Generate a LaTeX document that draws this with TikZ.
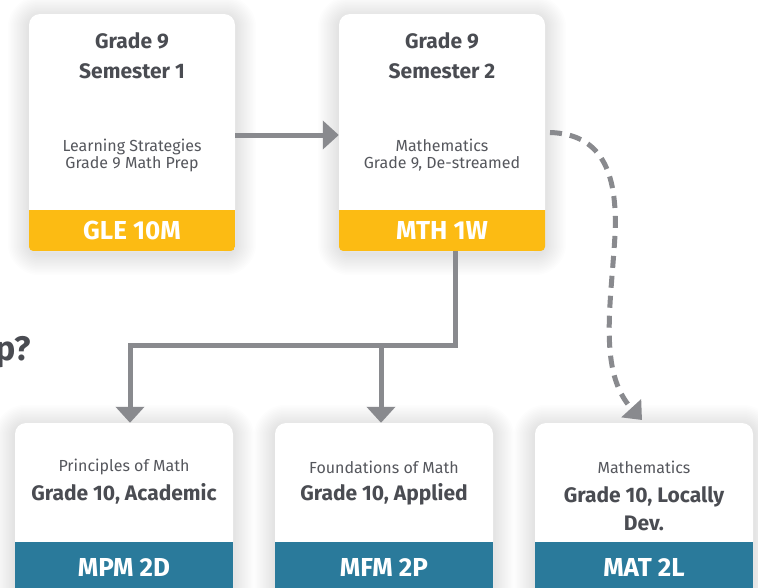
\documentclass[tikz,border=0pt]{standalone}
\usepackage{fontspec}
\setmainfont{Fira Sans}
\usetikzlibrary{arrows.meta,calc,backgrounds}
\definecolor{ylw}{HTML}{FCBB13}
\definecolor{blu}{HTML}{2A7A9B}
\definecolor{ink}{HTML}{4A4C52}
\definecolor{subink}{HTML}{55575D}
\definecolor{connc}{HTML}{898A8E}
\pgfdeclarelayer{bottomlayer}
\pgfsetlayers{bottomlayer,background,main}
\begin{document}
\begin{tikzpicture}[x=1pt,y=-1pt,
  card/.style={fill=white, rounded corners=11pt, inner sep=0pt},
  topcard/.style={card, minimum width=206pt, minimum height=237pt},
  botcard/.style={card, minimum width=218pt, minimum height=190pt},
  foot/.style={inner sep=0pt, text=white, font=\fontsize{26}{30}\selectfont\bfseries},
  head/.style={align=center, text=ink, font=\fontsize{21}{30}\selectfont\bfseries},
  sub/.style={align=center, text=subink, font=\fontsize{16}{17}\selectfont},
  main/.style={align=center, text=ink, font=\fontsize{21}{28}\selectfont\bfseries},
  conn/.style={draw=connc, line width=5pt},
  tip/.style={-{Triangle[length=16pt,width=28pt]}},
  glow/.style={fill=black, opacity=0.009}
]
\useasboundingbox (0,0) rectangle (758,587);

% partial title
\node[anchor=base east, inner sep=0pt, text=ink, font=\fontsize{34}{38}\selectfont\bfseries] (ttl) at (31,360) {p?};

% top cards
\node[topcard] (b1) at (132,132.5) {};
\begin{scope}
  \clip[rounded corners=5pt] (b1.north west) rectangle (b1.south east);
  \node[foot, fill=ylw, minimum width=206pt, minimum height=41pt, anchor=south] (f1) at (b1.south) {GLE 10M};
\end{scope}
\node[head] (h1) at (132,56) {Grade 9\\Semester 1};
\node[sub] (s1) at (132,155) {Learning Strategies\\Grade 9 Math Prep};

\node[topcard] (b2) at (442,132.5) {};
\begin{scope}
  \clip[rounded corners=5pt] (b2.north west) rectangle (b2.south east);
  \node[foot, fill=ylw, minimum width=207pt, minimum height=41pt, anchor=south] (f2) at (b2.south) {MTH 1W};
\end{scope}
\node[head] (h2) at (442,56) {Grade 9\\Semester 2};
\node[sub] (s2) at (442,155) {Mathematics\\Grade 9, De-streamed};

% bottom cards
\node[botcard] (b3) at (124,518) {};
\node[foot, fill=blu, minimum width=218pt, minimum height=60pt, anchor=north] (f3) at (124,542) {\raisebox{9pt}{MPM 2D}};
\node[sub] (s3) at (124,467) {Principles of Math};
\node[main] (m3) at (124,494) {Grade 10, Academic};

\node[botcard] (b4) at (384,518) {};
\node[foot, fill=blu, minimum width=218pt, minimum height=60pt, anchor=north] (f4) at (384,542) {\raisebox{9pt}{MFM 2P}};
\node[sub] (s4) at (384,467) {Foundations of Math};
\node[main] (m4) at (384,494) {Grade 10, Applied};

\node[botcard] (b5) at (644,518) {};
\node[foot, fill=blu, minimum width=218pt, minimum height=60pt, anchor=north] (f5) at (644,542) {\raisebox{9pt}{MAT 2L}};
\node[sub] (s5) at (644,467) {Mathematics};
\node[main] (m5) at (644,509) {Grade 10, Locally\\Dev.};

% soft shadows behind cards
\begin{pgfonlayer}{background}
\foreach \n in {b1,b2,b3,b4,b5}{
  \foreach \i in {1,...,14}{
    \fill[glow, rounded corners={11pt+\i*1.5pt}]
      ($(\n.north west)+(-\i*1.5,-\i*1.5+3)$) rectangle ($(\n.south east)+(\i*1.5,\i*1.5+3)$);
  }
}
\end{pgfonlayer}
\begin{pgfonlayer}{bottomlayer}
\fill[white] (0,0) rectangle (758,587);
\end{pgfonlayer}

% connectors
\draw[conn, tip] ($(b1.east)+(0,2.5)$) -- ($(b2.west)+(0,2.5)$);

\coordinate (jr) at (455,345);
\coordinate (jm) at (381,345);
\coordinate (jl) at (130,345);
\draw[conn, tip] (f2.south -| jr) -- (jr) -- (jl) -- (jl |- b3.north);
\draw[conn, tip] (jm) -- (jm |- b4.north);

\coordinate (ds) at (550,132.5);
\coordinate (de) at (642,420);
\draw[conn, dash pattern=on 12pt off 8pt, -{Triangle[length=16pt,width=26pt]}]
  (ds) .. controls (600,134) and (618,170) .. (615,235)
       .. controls (611,305) and (598,372) .. (de);
\end{tikzpicture}
\end{document}
